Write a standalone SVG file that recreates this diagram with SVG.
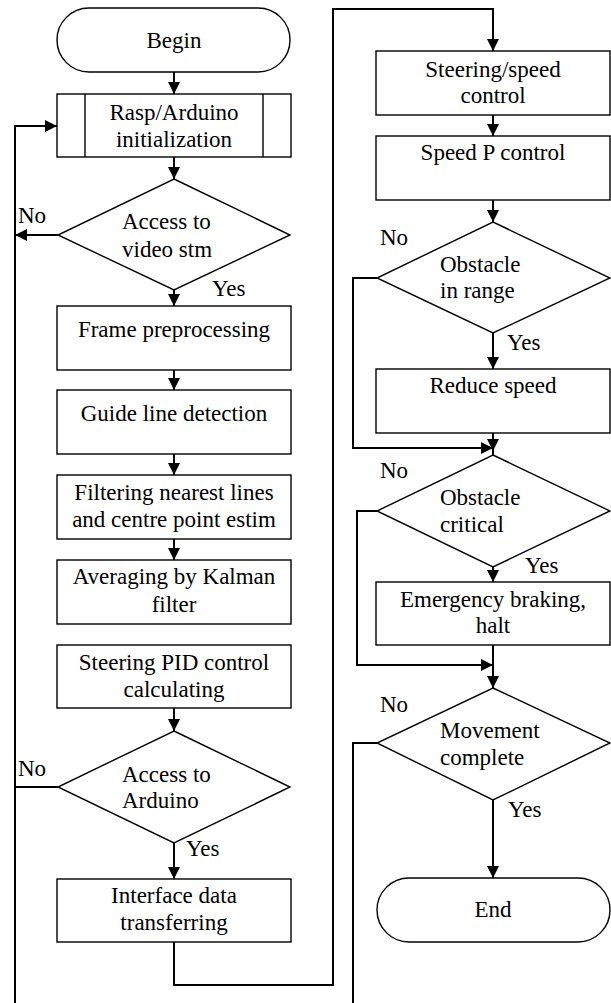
<svg xmlns="http://www.w3.org/2000/svg" width="611" height="1003" viewBox="0 0 611 1003">
<style>
.s{fill:#fff;stroke:#000;stroke-width:1.4}
.c{fill:none;stroke:#000;stroke-width:2}
.m{text-anchor:middle}
</style>
<defs>
<marker id="a" markerUnits="userSpaceOnUse" markerWidth="13" markerHeight="13" refX="12" refY="6" orient="auto">
<path d="M0,0 L12,6 L0,12 z" fill="#000"/>
</marker>
</defs>
<rect width="611" height="1003" fill="#fff"/>
<g id="connectors">
<path class="c" d="M174,72 V94" marker-end="url(#a)"/>
<path class="c" d="M174,157 V179" marker-end="url(#a)"/>
<path class="c" d="M58,235 H15" marker-end="url(#a)"/>
<path class="c" d="M15,1003 V126 H57" marker-end="url(#a)"/>
<path class="c" d="M58,787 H15"/>
<path class="c" d="M174,290 V306" marker-end="url(#a)"/>
<path class="c" d="M174,370 V390" marker-end="url(#a)"/>
<path class="c" d="M174,454 V475" marker-end="url(#a)"/>
<path class="c" d="M174,539 V560" marker-end="url(#a)"/>
<path class="c" d="M174,708 V731" marker-end="url(#a)"/>
<path class="c" d="M174,843 V879" marker-end="url(#a)"/>
<path class="c" d="M174,942 V985 H333 V9 H493 V51" marker-end="url(#a)"/>
<path class="c" d="M493,115 V136" marker-end="url(#a)"/>
<path class="c" d="M493,200 V222" marker-end="url(#a)"/>
<path class="c" d="M493,333 V369" marker-end="url(#a)"/>
<path class="c" d="M377,278 H353 V448 H493" marker-end="url(#a)"/>
<path class="c" d="M493,433 V451" marker-end="url(#a)"/>
<path class="c" d="M493,449 V455"/>
<path class="c" d="M493,567 V582" marker-end="url(#a)"/>
<path class="c" d="M377,511 H357 V665 H493" marker-end="url(#a)"/>
<path class="c" d="M493,645 V688" marker-end="url(#a)"/>
<path class="c" d="M377,743 H353 V1003"/>
<path class="c" d="M493,800 V878" marker-end="url(#a)"/>
</g>
<g font-family="'Liberation Serif', 'Times New Roman', 'DejaVu Serif', serif" font-size="23" fill="#000">
<g id="begin"><rect class="s" x="57" y="8" width="233" height="64" rx="32"/><text class="m" x="174" y="48">Begin</text></g>
<g id="init"><rect class="s" x="57" y="94" width="234" height="63"/><path class="s" d="M85,94 V157 M263,94 V157"/><text class="m" x="174" y="120">Rasp/Arduino</text><text class="m" x="174" y="147">initialization</text></g>
<g id="d1"><polygon class="s" points="174,179 290,235 174,290 58,235"/><text x="122" y="229">Access to</text><text x="122" y="257">video stm</text><text x="18" y="223">No</text><text x="212" y="296">Yes</text></g>
<g id="frame"><rect class="s" x="57" y="306" width="234" height="64"/><text class="m" x="174" y="337">Frame preprocessing</text></g>
<g id="guide"><rect class="s" x="57" y="390" width="234" height="64"/><text class="m" x="174" y="421">Guide line detection</text></g>
<g id="filtering"><rect class="s" x="57" y="475" width="234" height="64"/><text class="m" x="174" y="500">Filtering nearest lines</text><text class="m" x="174" y="527">and centre point estim</text></g>
<g id="kalman"><rect class="s" x="57" y="560" width="234" height="64"/><text class="m" x="174" y="584">Averaging by Kalman</text><text class="m" x="174" y="612">filter</text></g>
<g id="pid"><rect class="s" x="57" y="645" width="234" height="63"/><text class="m" x="174" y="670">Steering PID control</text><text class="m" x="174" y="697">calculating</text></g>
<g id="d2"><polygon class="s" points="174,731 290,787 174,843 58,787"/><text x="122" y="782">Access to</text><text x="122" y="808">Arduino</text><text x="18" y="776">No</text><text x="186" y="856">Yes</text></g>
<g id="iface"><rect class="s" x="57" y="879" width="234" height="63"/><text class="m" x="174" y="903">Interface data</text><text class="m" x="174" y="930">transferring</text></g>
<g id="steerspeed"><rect class="s" x="376" y="51" width="234" height="64"/><text class="m" x="493" y="77">Steering/speed</text><text class="m" x="493" y="103">control</text></g>
<g id="speedp"><rect class="s" x="376" y="136" width="234" height="64"/><text class="m" x="493" y="160">Speed P control</text></g>
<g id="d3"><polygon class="s" points="493,222 610,278 493,333 377,278"/><text x="440" y="272">Obstacle</text><text x="440" y="298">in range</text><text x="380" y="245">No</text><text x="507" y="350">Yes</text></g>
<g id="reduce"><rect class="s" x="376" y="369" width="234" height="64"/><text class="m" x="493" y="393">Reduce speed</text></g>
<g id="d4"><polygon class="s" points="493,455 610,511 493,567 377,511"/><text x="440" y="505">Obstacle</text><text x="440" y="532">critical</text><text x="380" y="478">No</text><text x="525" y="573">Yes</text></g>
<g id="brake"><rect class="s" x="376" y="582" width="234" height="63"/><text class="m" x="493" y="607">Emergency braking,</text><text class="m" x="493" y="633">halt</text></g>
<g id="d5"><polygon class="s" points="493,688 610,743 493,800 377,743"/><text x="440" y="738">Movement</text><text x="440" y="765">complete</text><text x="380" y="712">No</text><text x="508" y="817">Yes</text></g>
<g id="end"><rect class="s" x="377" y="878" width="233" height="64" rx="32"/><text class="m" x="493" y="917">End</text></g>
</g>
</svg>
